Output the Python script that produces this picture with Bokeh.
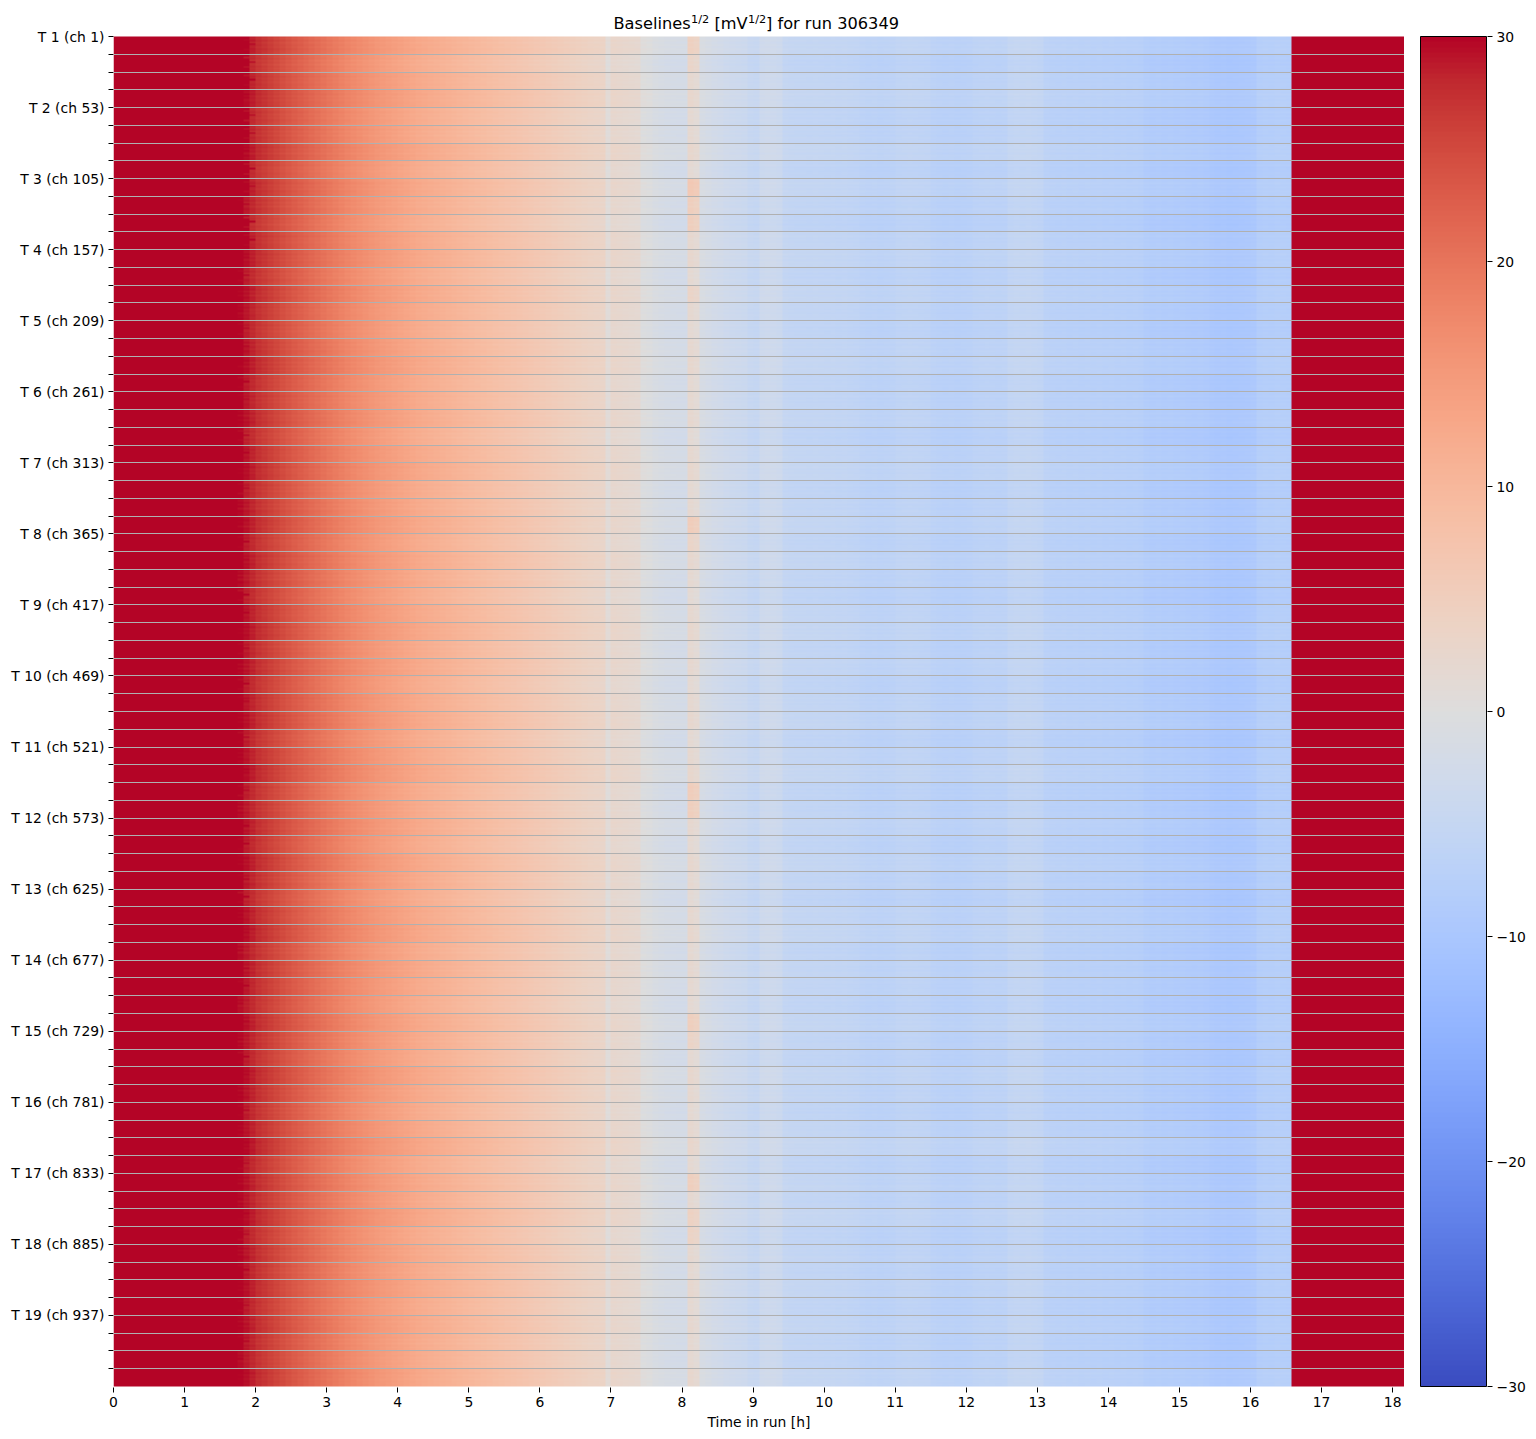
import numpy as np
from bokeh.plotting import figure
from bokeh.models import LinearColorMapper, FixedTicker, Range1d, Label
from bokeh.layouts import row
from bokeh.embed import file_html
from bokeh.resources import INLINE

# ---------------- data ----------------
n_channels = 988          # 19 trays x 52 channels
channels_per_band = 13
bins_per_hour = 12        # 5-minute time bins
n_bins = 218

# median baseline^(1/2) profile per 5-min bin [mV^(1/2)]
profile = [
    35, 35, 35, 35, 35, 35, 35, 35, 35, 35, 35, 35,                 # 0 h
    35, 35, 35, 35, 35, 35, 35, 33, 31, 29.5, 28.8, 28.0,           # 1 h
    27.0, 26.4, 25.7, 25.0, 24.3, 23.6, 22.9, 22.3, 21.7, 21.1, 20.5, 19.9,   # 2 h
    19.3, 18.7, 18.1, 17.5, 17.0, 16.5, 16.0, 15.5, 15.0, 14.6, 14.2, 13.8,   # 3 h
    13.4, 13.0, 12.6, 12.2, 11.9, 11.6, 11.3, 11.0, 10.7, 10.4, 10.1, 9.8,    # 4 h
    9.5, 9.2, 8.9, 8.6, 8.3, 8.0, 7.7, 7.4, 7.1, 6.8, 6.5, 6.2,               # 5 h
    5.9, 5.6, 5.3, 5.0, 4.7, 4.4, 4.1, 3.8, 3.5, 3.3, 3.1, 0.6,               # 6 h
    2.4, 2.2, 2.0, 1.8, 1.6, -0.2, -0.5, -1.2, -1.6, -1.9, -2.0, -2.1,        # 7 h
    -2.1, 1.8, 1.2, -1.5, -2.0, -2.5, -2.8, -3.3, -3.6, -3.8, -4.0, -4.8,     # 8 h
    -5.0, -3.6, -3.4, -3.5, -3.8, -5.2, -5.4, -5.5, -5.5, -5.6, -5.5, -5.6,   # 9 h
    -5.7, -5.6, -5.8, -5.7, -5.9, -6.0, -6.4, -6.6, -6.5, -6.7, -6.6, -6.5,   # 10 h
    -6.1, -6.0, -5.9, -6.0, -6.1, -6.2, -6.8, -7.0, -7.1, -7.0, -7.2, -7.1,   # 11 h
    -7.0, -6.6, -6.5, -6.4, -6.5, -6.6, -6.5, -5.6, -5.4, -5.5, -5.4, -5.6,   # 12 h
    -5.8, -6.8, -7.0, -7.1, -7.0, -7.2, -7.1, -7.3, -7.2, -7.4, -7.3, -7.5,   # 13 h
    -7.4, -7.6, -7.5, -7.7, -7.6, -7.8, -8.4, -8.6, -8.5, -8.7, -8.6, -8.8,   # 14 h
    -8.7, -8.9, -9.0, -8.9, -9.1, -9.5, -9.7, -9.6, -9.8, -9.7, -9.6, -9.5,   # 15 h
    -9.3, -8.2, -8.0, -8.1, -7.9, -8.0, -8.1, 35, 35, 35, 35, 35,             # 16 h
    35, 35, 35, 35, 35, 35, 35, 35, 35, 35, 35, 35,                           # 17 h
    35, 35,                                                                    # 18 h
]

# first non-saturated bin for each band of 13 channels
band_onset_bin = [
    23, 23, 23, 22, 23, 23, 22, 23, 23, 22, 23, 23,
    22, 22, 21, 21, 22, 22, 21, 22, 22, 21, 22, 22,
    21, 22, 21, 21, 22, 22, 21, 22, 22, 21, 22, 21,
    22, 22, 21, 22, 21, 22, 22, 21, 22, 22, 21, 22,
    22, 21, 22, 21, 22, 22, 21, 22, 21, 22, 22, 21,
    22, 21, 20, 22, 21, 21, 20, 22, 21, 22, 21, 22,
    21, 22, 21, 21,
]

# per-band offset [mV^(1/2)]
band_offset = [
    0.5, -0.3, 0.2, 0.6, -0.2, 0.1, 0.7, -0.4, 0.3, 0.0, -0.5, 0.2,
    0.4, -0.2, 0.5, 0.1, -0.3, 0.2, 0.6, -0.1, 0.0, 0.3, -0.4, 0.2,
    0.5, -0.3, 0.1, 0.4, -0.2, 0.3, 0.0, -0.4, 0.2, 0.5, -0.1, 0.3,
    -0.3, 0.1, 0.4, -0.2, 0.2, 0.6, -0.3, 0.0, 0.3, -0.2, 0.4, 0.1,
    -0.4, 0.2, 0.5, -0.1, 0.3, 0.0, -0.3, 0.4, 0.1, -0.2, 0.5, 0.2,
    -0.1, 0.3, 0.8, -0.2, 0.4, 0.1, 0.6, -0.3, 0.2, 0.0, 0.4, -0.2,
    0.3, 0.1, -0.1, 0.5,
]

# extra height of the 8.1-8.25 h excursion per band
spike_bins = [97, 98]
spike_extra = [
    2.0, 1.5, 0, 0, 0, 0, 0, 0, 4.0, 3.0, 3.5, 0,
    0, 0, 1.0, 0, 0, 0, 0, 0, 0, 0, 0, 0,
    0, 0, 0, 3.0, 1.5, 0, 0, 0, 0, 0, 0, 0,
    0, 0, 0, 0, 0, 0, 3.5, 3.0, 0, 0, 0, 0,
    0, 0, 0, 0, 0, 0, 0, 2.5, 1.5, 0, 0, 0,
    0, 0, 0, 0, 2.5, 0, 1.5, 2.0, 0, 0, 0, 0,
    0, 0, 0, 0,
]

# channel-within-band offsets and onset shifts
chan_offset = [0.3, -0.2, 0.1, 0.4, -0.3, 0.0, 0.2, -0.4, 0.1, 0.3, -0.1, 0.2, -0.2]
chan_onset_shift = [0, 0, -1, 0, 0, 1, 0, 0, 0, -1, 0, 0, 0]

n_trays = 19
colorbar_ticks = [-30, -20, -10, 0, 10, 20, 30]
time_ticks = list(range(19))

# ---------------- coolwarm palette ----------------
cw_anchors = [
    (59, 76, 192), (68, 90, 204), (77, 104, 215), (87, 117, 225), (98, 130, 234),
    (108, 142, 241), (119, 154, 247), (130, 165, 251), (141, 176, 254), (152, 185, 255),
    (163, 194, 255), (174, 201, 253), (184, 208, 249), (194, 213, 244), (204, 217, 238),
    (213, 219, 230), (221, 221, 221), (229, 216, 209), (236, 211, 197), (241, 204, 185),
    (245, 196, 173), (247, 187, 160), (247, 177, 148), (247, 166, 135), (244, 154, 123),
    (241, 141, 111), (236, 127, 99), (229, 112, 88), (222, 96, 77), (213, 80, 66),
    (203, 62, 56), (192, 40, 47), (180, 4, 38),
]
anc = np.array(cw_anchors, dtype=float)
apos = np.linspace(0, 1, len(anc))
fpos = np.linspace(0, 1, 256)
palette = []
for f in fpos:
    r, g, b = (np.interp(f, apos, anc[:, k]) for k in range(3))
    palette.append("#%02x%02x%02x" % (int(round(r)), int(round(g)), int(round(b))))

mapper = LinearColorMapper(palette=palette, low=-30, high=30)

# ---------------- matrix ----------------
prof = np.array(profile, dtype=float)
M = np.zeros((n_channels, n_bins))
for c in range(n_channels):
    b = c // channels_per_band
    k = c % channels_per_band
    r = prof + band_offset[b] + chan_offset[k]
    for sb in spike_bins:
        r[sb] += spike_extra[b]
    onset = band_onset_bin[b] + chan_onset_shift[k]
    r[:onset] = np.maximum(r[:onset], 35)
    M[c] = r
img = M[::-1].copy()   # row 0 at the bottom (last channel)

x_end = n_bins / bins_per_hour
FONT = "DejaVu Sans"
FS = "13.9px"

# heatmap occupies 1350 px; the frame also holds 36 px of blank space above (title)
# and 1 px below, so that both figures of the row can share a zero top border
PLOT_H = 1350
TOP = 36
BOT = 1
FRAME_H = PLOT_H + TOP + BOT
px_per_ch = PLOT_H / n_channels

p = figure(frame_width=1291, frame_height=FRAME_H,
           x_range=Range1d(0, x_end),
           y_range=Range1d(-BOT / px_per_ch, n_channels + TOP / px_per_ch),
           output_backend="svg", toolbar_location=None,
           min_border_left=113, min_border_right=0, min_border_top=0, min_border_bottom=44)
p.image(image=[img], x=0, y=0, dw=x_end, dh=n_channels, color_mapper=mapper)

p.outline_line_color = None
p.xgrid.visible = False
grid_vals = [n_channels - channels_per_band * k for k in range(1, n_channels // channels_per_band)]
p.ygrid.ticker = FixedTicker(ticks=grid_vals)
p.ygrid.level = "overlay"
p.ygrid.grid_line_color = "#b0b0b0"
p.ygrid.grid_line_width = 1

ytick_vals = [n_channels - channels_per_band * k for k in range(n_channels // channels_per_band)]
overrides = {}
for k in range(n_channels // channels_per_band):
    v = n_channels - channels_per_band * k
    if k % 4 == 0:
        t = k // 4
        overrides[v] = "T %d (ch %d)" % (t + 1, 52 * t + 1)
    else:
        overrides[v] = ""
p.yaxis.ticker = FixedTicker(ticks=ytick_vals)
p.yaxis.major_label_overrides = overrides
p.xaxis.ticker = FixedTicker(ticks=time_ticks)
p.xaxis.axis_label = "Time in run [h]"

for ax in (p.xaxis, p.yaxis):
    ax.axis_line_color = None
    ax.major_tick_out = 5
    ax.major_tick_in = 0
    ax.minor_tick_out = 0
    ax.minor_tick_in = 0
    ax.major_tick_line_color = "black"
    ax.major_label_text_font = FONT
    ax.major_label_text_font_size = FS
    ax.major_label_text_color = "black"
    ax.major_label_standoff = 4
    ax.axis_label_text_font = FONT
    ax.axis_label_text_font_size = FS
    ax.axis_label_text_font_style = "normal"
    ax.axis_label_text_color = "black"
p.xaxis.axis_label_standoff = 4

# title with superscripts (page-pixel positions converted to data units)
px_per_h = 1291 / x_end
def xd(page_x):
    return (page_x - 113) / px_per_h
def yd(page_y):
    return n_channels + (TOP - page_y) / px_per_ch

pieces = [
    ("Baselines", 613.0, 22.7, "16.2px"),
    ("1/2", 690.5, 18.5, "11.3px"),
    ("[mV", 714.0, 22.7, "16.2px"),
    ("1/2", 747.5, 18.5, "11.3px"),
    ("] for run 306349", 765.5, 22.7, "16.2px"),
]
for txt, px, py, fs in pieces:
    p.add_layout(Label(x=xd(px), y=yd(py), text=txt, text_font=FONT, text_font_size=fs,
                       text_color="black", text_baseline="middle", text_align="left"))

# colorbar as its own figure, same frame geometry
CB_W = 66
val_per_px = 60 / PLOT_H
p2 = figure(frame_width=CB_W + 2, frame_height=FRAME_H,
            x_range=Range1d(-1 / CB_W, 1 + 1 / CB_W),
            y_range=Range1d(-30 - BOT * val_per_px, 30 + TOP * val_per_px),
            output_backend="svg", toolbar_location=None, x_axis_location=None,
            y_axis_location="right",
            min_border_left=15, min_border_right=40, min_border_top=0, min_border_bottom=44)
grad = np.linspace(-30, 30, 256).reshape(-1, 1)
p2.image(image=[grad], x=0, y=-30, dw=1, dh=60, color_mapper=mapper)
p2.quad(left=[0], right=[1], bottom=[-30], top=[30], fill_color=None,
        line_color="black", line_width=1)
p2.grid.visible = False
p2.outline_line_color = None
ax = p2.yaxis[0]
ax.ticker = FixedTicker(ticks=colorbar_ticks)
ax.major_label_overrides = {v: (("\u2212%d" % -v) if v < 0 else str(v)) for v in colorbar_ticks}
ax.axis_line_color = None
ax.major_tick_out = 5
ax.major_tick_in = 0
ax.minor_tick_out = 0
ax.minor_tick_in = 0
ax.major_tick_line_color = "black"
ax.major_label_text_font = FONT
ax.major_label_text_font_size = FS
ax.major_label_text_color = "black"
ax.major_label_standoff = 4

layout = row(p, p2)
open("out.html", "w").write(file_html(layout, INLINE))
